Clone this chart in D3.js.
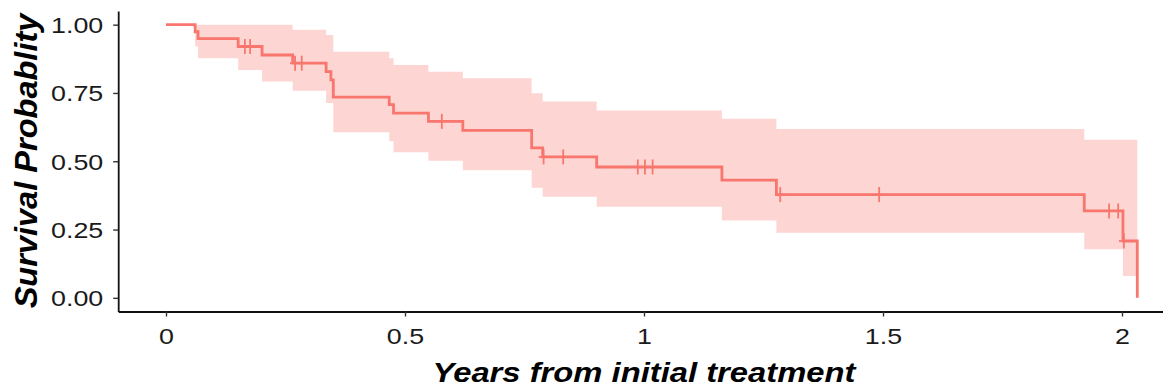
<!DOCTYPE html>
<html>
<head>
<meta charset="utf-8">
<script src="https://cdn.jsdelivr.net/npm/d3@7"></script>
<style>
  body { margin: 0; background: #fff; }
  svg { display: block; font-family: "Liberation Sans", Arial, sans-serif; }
</style>
</head>
<body>
<svg id="chart" width="1163" height="390"></svg>
<script>
// Kaplan-Meier step function: value holds from each time until the next one
const stepTimes = [0, 0.061, 0.067, 0.151, 0.201, 0.265, 0.335, 0.345, 0.350, 0.467, 0.476, 0.549, 0.621, 0.765, 0.788, 0.901, 1.163, 1.277, 1.921, 2.002, 2.032];
const survival  = [1, 0.974, 0.949, 0.920, 0.889, 0.859, 0.828, 0.798, 0.735, 0.707, 0.676, 0.646, 0.613, 0.549, 0.516, 0.479, 0.431, 0.378, 0.318, 0.208, 0.000];
const upperCI   = [1, 1.000, 1.000, 1.000, 1.000, 0.981, 0.962, 0.962, 0.901, 0.877, 0.852, 0.828, 0.804, 0.749, 0.719, 0.686, 0.656, 0.618, 0.579, 0.579, null];
const lowerCI   = [1, 0.920, 0.877, 0.834, 0.792, 0.758, 0.713, 0.713, 0.606, 0.573, 0.533, 0.502, 0.467, 0.403, 0.370, 0.333, 0.283, 0.238, 0.178, 0.080, null];

// censored observations
const censorTimes = [0.165, 0.176, 0.270, 0.284, 0.577, 0.790, 0.831, 0.987, 1.002, 1.018, 1.285, 1.492, 1.973, 1.992, 2.004];

const xTicks = [0, 0.5, 1, 1.5, 2];
const yTicks = [0, 0.25, 0.5, 0.75, 1];

const colour = "#F8766D";
const textStretch = 1.22;

const svg = d3.select("#chart");

const x = d3.scaleLinear().domain([-0.1, 2.1]).range([118.2, 1169.8]);
const y = d3.scaleLinear().domain([-0.05, 1.05]).range([311.5, 11]);

const steps = stepTimes.map((t, i) => ({ t, s: survival[i], u: upperCI[i], l: lowerCI[i] }));

// confidence band
const bandData = steps.filter(d => d.u !== null);
bandData.push({ ...bandData[bandData.length - 1], t: stepTimes[stepTimes.length - 1] });

const band = d3.area()
  .curve(d3.curveStepAfter)
  .x(d => x(d.t))
  .y0(d => y(d.l))
  .y1(d => y(d.u));

svg.append("path")
  .datum(bandData)
  .attr("fill", colour)
  .attr("fill-opacity", 0.3)
  .attr("d", band);

// survival curve
const line = d3.line()
  .curve(d3.curveStepAfter)
  .x(d => x(d.t))
  .y(d => y(d.s));

svg.append("path")
  .datum(steps)
  .attr("fill", "none")
  .attr("stroke", colour)
  .attr("stroke-width", 2.8)
  .attr("d", line);

// censor marks
const survivalAt = t => {
  let idx = d3.bisectRight(stepTimes, t) - 1;
  return survival[Math.max(idx, 0)];
};

const marks = svg.append("g")
  .attr("stroke", colour)
  .attr("stroke-width", 1.8);

censorTimes.forEach(t => {
  const cx = x(t), cy = y(survivalAt(t));
  marks.append("line").attr("x1", cx).attr("x2", cx).attr("y1", cy - 7.5).attr("y2", cy + 7.5);
  marks.append("line").attr("x1", cx - 5).attr("x2", cx + 5).attr("y1", cy).attr("y2", cy);
});

// axes
const xAxis = svg.append("g")
  .attr("transform", "translate(0,311.5)")
  .call(d3.axisBottom(x).tickValues(xTicks).tickFormat(d3.format("")).tickSize(5).tickSizeOuter(0));

const yAxis = svg.append("g")
  .attr("transform", "translate(118.2,0)")
  .call(d3.axisLeft(y).tickValues(yTicks).tickFormat(d3.format(".2f")).tickSize(5).tickSizeOuter(0));

[xAxis, yAxis].forEach(g => {
  g.select(".domain").attr("stroke", "#111").attr("stroke-width", 1.8);
  g.selectAll(".tick line").attr("stroke", "#333").attr("stroke-width", 1.4);
  g.selectAll("text")
    .attr("fill", "#1a1a1a")
    .attr("transform", `scale(${textStretch},1)`)
    .style("font-size", "22px")
    .style("font-family", "'Liberation Sans', Arial, sans-serif");
});
xAxis.selectAll("text").attr("y", 33).attr("dy", 0);
yAxis.selectAll("text").attr("x", -15 / textStretch).attr("dy", "0.36em");

// axis titles
svg.append("text")
  .attr("transform", "translate(644,381.5) scale(1.17,1)")
  .attr("text-anchor", "middle")
  .style("font-size", "28px")
  .style("font-weight", "bold")
  .style("font-style", "italic")
  .attr("fill", "#000")
  .text("Years from initial treatment");

svg.append("text")
  .attr("transform", "translate(36.5,161) rotate(-90) scale(1.05,1)")
  .attr("text-anchor", "middle")
  .style("font-size", "31px")
  .style("font-weight", "bold")
  .style("font-style", "italic")
  .attr("fill", "#000")
  .text("Survival Probablity");
</script>
</body>
</html>
